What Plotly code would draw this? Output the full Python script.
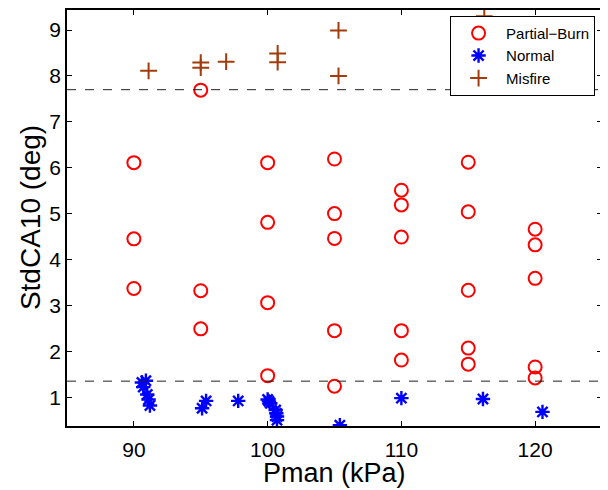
import plotly.graph_objects as go

# Partial-Burn
pb_x = [90, 90, 90, 95, 95, 95, 100, 100, 100, 100, 105, 105, 105, 105, 105,
        110, 110, 110, 110, 110, 115, 115, 115, 115, 115, 120, 120, 120, 120, 120]
pb_y = [6.11, 4.45, 3.37, 7.69, 3.32, 2.49, 6.11, 4.81, 3.06, 1.47, 6.19, 5.0, 4.46, 2.45, 1.24,
        5.51, 5.19, 4.49, 2.45, 1.81, 6.12, 5.04, 3.33, 2.07, 1.72, 4.66, 4.32, 3.59, 1.66, 1.42]

# Normal
nm_x = [90.6, 90.9, 90.7, 91.0, 91.1, 91.2, 95.1, 95.4, 97.8, 100.0, 100.1, 100.2,
        100.6, 100.65, 100.7, 100.7, 105.4, 110.0, 116.1, 120.55]
nm_y = [1.32, 1.36, 1.22, 1.06, 0.95, 0.82, 0.76, 0.92, 0.92, 0.95, 0.91, 0.87,
        0.72, 0.65, 0.58, 0.50, 0.39, 0.98, 0.96, 0.68]

# Misfire
mf_x = [91.1, 95.0, 95.0, 96.9, 100.75, 100.75, 105.3, 105.3, 116.2]
mf_y = [8.11, 8.29, 8.18, 8.31, 8.49, 8.30, 8.99, 8.0, 9.3]

# Threshold lines
thresholds = [7.7, 1.35]

x_ticks = [90, 100, 110, 120]
y_ticks = [1, 2, 3, 4, 5, 6, 7, 8, 9]
x_range = [85, 125]
y_range = [0.373, 9.436]

FONT = "Liberation Sans, Arial, Helvetica, sans-serif"

fig = go.Figure()
fig.add_trace(go.Scatter(
    x=pb_x, y=pb_y, mode="markers", name="Partial\u2212Burn",
    marker=dict(symbol="circle-open", size=13, color="#ff0000", line=dict(width=2, color="#ff0000")),
))
fig.add_trace(go.Scatter(
    x=nm_x, y=nm_y, mode="markers", name="Normal",
    marker=dict(symbol="asterisk-open", size=12, color="#0000ff", line=dict(width=2.4, color="#0000ff")),
))
fig.add_trace(go.Scatter(
    x=mf_x, y=mf_y, mode="markers", name="Misfire",
    marker=dict(symbol="cross-thin-open", size=12, color="#a33c0c", line=dict(width=2, color="#a33c0c")),
))

for t in thresholds:
    fig.add_shape(type="line", xref="paper", x0=0, x1=1, yref="y", y0=t, y1=t,
                  line=dict(color="#222222", width=1, dash="dash"), layer="above")

axis_common = dict(
    showgrid=False, zeroline=False, showline=True, linecolor="black", linewidth=1.5,
    mirror="ticks", ticks="inside", ticklen=5, tickcolor="black", tickwidth=1,
    tickfont=dict(family=FONT, size=21, color="black"), automargin=False,
)

fig.update_layout(
    width=600, height=482,
    margin=dict(l=59, r=6, t=2, b=64),
    plot_bgcolor="white", paper_bgcolor="white",
    font=dict(family=FONT, color="black"),
    xaxis=dict(range=x_range, tickvals=x_ticks, ticklabelstandoff=4, **axis_common),
    yaxis=dict(range=y_range, tickvals=y_ticks, ticklabelstandoff=0, **axis_common),
    legend=dict(x=0.716, y=0.986, xanchor="left", yanchor="top", bgcolor="white",
                bordercolor="black", borderwidth=1, font=dict(family=FONT, size=15),
                tracegroupgap=0, itemwidth=45),
    showlegend=True,
    annotations=[
        dict(text="Pman (kPa)", xref="paper", yref="paper", x=0.5, y=-0.114,
             xanchor="center", yanchor="middle", showarrow=False,
             font=dict(family=FONT, size=27, color="black")),
        dict(text="StdCA10 (deg)", xref="paper", yref="paper", x=-0.069, y=0.5,
             xanchor="center", yanchor="middle", textangle=-90, showarrow=False,
             font=dict(family=FONT, size=28, color="black")),
    ],
)

fig.write_html("out.html")
